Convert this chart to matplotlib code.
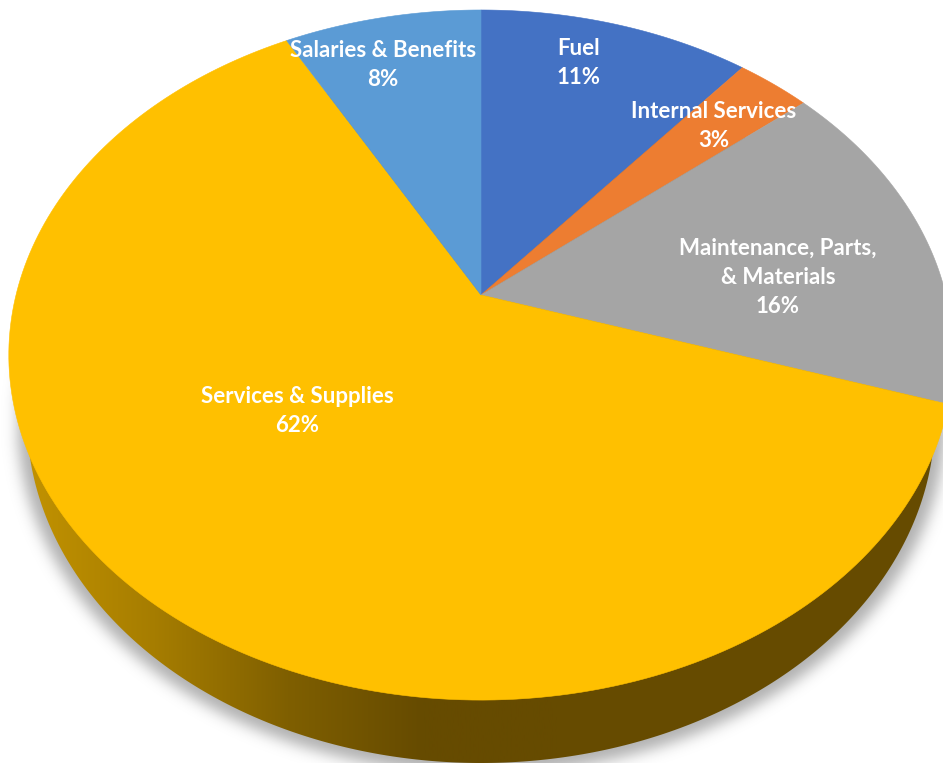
import numpy as np
import matplotlib
matplotlib.use("Agg")
import matplotlib.pyplot as plt
from matplotlib.colors import LinearSegmentedColormap
from matplotlib.patches import Polygon

categories = ["Fuel", "Internal Services", "Maintenance, Parts,\n& Materials", "Services & Supplies", "Salaries & Benefits"]
shares = [11, 3, 16, 62, 8]
colors = ["#4472C4", "#ED7D31", "#A5A5A5", "#FFC000", "#5B9BD5"]
label_xy = [(579, 63), (714, 126), (778, 277), (297, 411), (383, 65)]

W, H = 943, 763
# tilted disc: perspective k, pie centre in pixels
cx, cy = 481, 295
k = 0.174
ax_u, ax_v = 465, 334.6


def disc(theta):
    d = 1 + k * np.cos(theta)
    return cx + ax_u * np.sin(theta) / d, cy - ax_v * np.cos(theta) / d


def ellipse(x0, y0, a, b, n=720):
    t = np.linspace(0, 2 * np.pi, n)
    return np.column_stack([x0 + a * np.cos(t), y0 + b * np.sin(t)])


def blur(img, sigma):
    r = int(3 * sigma)
    g = np.exp(-np.arange(-r, r + 1) ** 2 / (2 * sigma ** 2))
    g /= g.sum()
    img = np.apply_along_axis(lambda a: np.convolve(a, g, mode="same"), 0, img)
    return np.apply_along_axis(lambda a: np.convolve(a, g, mode="same"), 1, img)


fig = plt.figure(figsize=(W / 100, H / 100), dpi=100)
ax = fig.add_axes([0, 0, 1, 1])
ax.set_xlim(0, W)
ax.set_ylim(H, 0)
ax.axis("off")

# soft shadow below the disc
pad = 60
yy, xx = np.mgrid[-pad:H + pad, -pad:W + pad]
mask = (((xx - 481) / 464.0) ** 2 + ((yy - 421) / 352.0) ** 2 <= 1).astype(float)
alpha = blur(mask, 7)[pad:-pad, pad:-pad]
shadow = np.zeros((H, W, 4))
shadow[..., :3] = 0.55
shadow[..., 3] = alpha * 0.68
ax.imshow(shadow, extent=(0, W, H, 0), aspect="auto", zorder=1)

# rim of the disc, lit from the left
rim = Polygon(ellipse(481, 418, 454, 345), closed=True, facecolor="none", edgecolor="none")
ax.add_patch(rim)
rim_cmap = LinearSegmentedColormap.from_list("rim", ["#C39300", "#A67D00", "#7F5F00", "#664B00", "#664B00"])
grad = np.linspace(0, 1, W)[None, :]
im = ax.imshow(grad, extent=(20, 557, H, 0), aspect="auto", cmap=rim_cmap, zorder=2)
im.set_clip_path(rim)
# everything right of the gradient stays the flat dark brown
right = ax.fill_between([557, W], 0, H, color="#664B00", lw=0, zorder=2)
right.set_clip_path(rim)

# top face wedges, clockwise from twelve o'clock
edges = np.concatenate([[0], np.cumsum(shares)]) / np.sum(shares) * 2 * np.pi
for i in range(len(shares)):
    th = np.linspace(edges[i], edges[i + 1], 200)
    x, y = disc(th)
    ax.fill(np.r_[cx, x], np.r_[cy, y], color=colors[i], lw=0.4, zorder=3)

for name, share, (tx, ty) in zip(categories, shares, label_xy):
    ax.text(tx, ty, f"{name}\n{share}%", color="white", fontsize=16, fontweight="bold",
            family="Lato", ha="center", va="center", linespacing=1.48, zorder=4)

ax.set_xlim(0, W)
ax.set_ylim(H, 0)
fig.savefig("out.png", dpi=100)
